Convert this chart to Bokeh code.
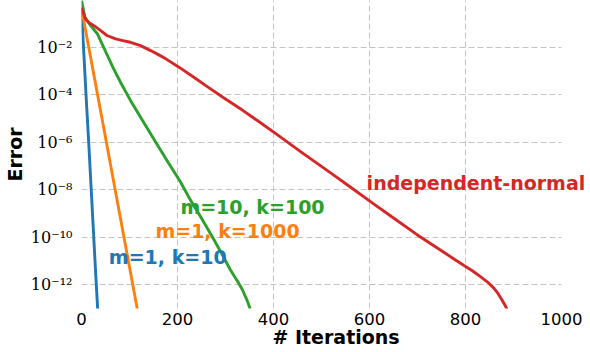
from bokeh.plotting import figure
from bokeh.models import Label, FixedTicker, Range1d
from bokeh.embed import file_html
from bokeh.resources import INLINE

# ---- data ----
blue_iter = [0, 5, 10, 15, 20, 25, 30, 35]
blue_err = [4.0e-1, 5.0e-3, 6.3e-5, 1.0e-6, 1.26e-8, 1.6e-10, 2.0e-12, 3.2e-14]

orange_iter = [0, 10, 20, 40, 60, 80, 100, 120]
orange_err = [4.5e-1, 3.6e-2, 3.0e-3, 2.0e-5, 1.3e-7, 8.5e-10, 5.6e-12, 3.7e-14]

green_iter = [0, 3, 7, 19, 33, 43, 54, 67, 81, 102, 130, 155, 180, 206, 227, 250,
              276, 295, 310, 325, 335, 345, 352, 358]
green_err = [1.0, 4.8e-1, 1.9e-1, 8.3e-2, 3.8e-2, 1.4e-2, 4.6e-3, 1.26e-3, 3.5e-4,
             5.9e-5, 6.8e-6, 1.0e-6, 1.5e-7, 2.2e-8, 3.7e-9, 6.3e-10, 7.9e-11, 1.6e-11,
             4.3e-12, 1.4e-12, 6.3e-13, 2.2e-13, 8.9e-14, 2.5e-14]

red_iter = [0, 3, 8, 16, 26, 40, 53, 71, 86, 102, 123, 144, 160, 175, 203, 234, 262,
            296, 335, 370, 404, 460, 519, 560, 602, 650, 699, 750, 796, 815, 831,
            846, 859, 868, 876, 882, 887, 892]
red_err = [4.9e-1, 3.2e-1, 1.6e-1, 1.1e-1, 8.3e-2, 5.1e-2, 3.2e-2, 2.3e-2, 1.95e-2,
           1.66e-2, 1.2e-2, 7.4e-3, 5.0e-3, 3.4e-3, 1.48e-3, 5.6e-4, 2.24e-4, 7.6e-5,
           2.3e-5, 7.4e-6, 2.4e-6, 3.6e-7, 5.2e-8, 1.32e-8, 3.2e-9, 6.5e-10, 1.29e-10,
           2.7e-11, 6.6e-12, 3.8e-12, 2.2e-12, 1.3e-12, 7.2e-13, 4.2e-13, 2.3e-13,
           1.4e-13, 8.9e-14, 2.5e-14]

series_names = ["m=1, k=10", "m=1, k=1000", "m=10, k=100", "independent-normal"]
series_colors = ["#1f77b4", "#ff7f0e", "#2ca02c", "#d62728"]

label_x = [57, 154, 206, 594]
label_y = [1.55e-11, 1.9e-10, 1.9e-9, 1.95e-8]

x_ticks = [0, 200, 400, 600, 800, 1000]
y_ticks = [1e-12, 1e-10, 1e-8, 1e-6, 1e-4, 1e-2]
y_tick_labels = ["10⁻¹²", "10⁻¹⁰", "10⁻⁸", "10⁻⁶", "10⁻⁴", "10⁻²"]

# ---- figure ----
p = figure(width=590, height=352, y_axis_type="log",
           x_range=Range1d(0, 1060.4), y_range=Range1d(10 ** -13.0, 10 ** -0.02),
           output_backend="svg", toolbar_location=None,
           min_border_left=81, min_border_right=0, min_border_top=0,
           min_border_bottom=44)
p.outline_line_color = None
p.background_fill_color = "white"
p.border_fill_color = "white"

xs = [blue_iter, orange_iter, green_iter, red_iter]
ys = [blue_err, orange_err, green_err, red_err]
for xv, yv, c in zip(xs, ys, series_colors):
    p.line(xv, yv, line_color=c, line_width=2.9, line_join="round")

for name, c, lx, ly in zip(series_names, series_colors, label_x, label_y):
    p.add_layout(Label(x=lx, y=ly, text=name, text_color=c,
                       text_font="DejaVu Sans", text_font_style="bold",
                       text_font_size="19px", text_baseline="middle",
                       text_align="left"))

# axes
p.xaxis.ticker = FixedTicker(ticks=x_ticks)
p.yaxis.ticker = FixedTicker(ticks=y_ticks)
p.yaxis.major_label_overrides = {t: s for t, s in zip(y_ticks, y_tick_labels)}
for ax in (p.xaxis[0], p.yaxis[0]):
    ax.axis_line_color = None
    ax.major_tick_line_color = None
    ax.minor_tick_line_color = None
    ax.major_tick_out = 0
    ax.major_tick_in = 0
    ax.minor_tick_out = 0
    ax.minor_tick_in = 0
    ax.axis_label_text_font = "DejaVu Sans"
    ax.axis_label_text_font_style = "bold"
    ax.axis_label_text_font_size = "19px"
    ax.axis_label_text_color = "black"
    ax.major_label_text_color = "black"

p.xaxis.axis_label = "# Iterations"
p.yaxis.axis_label = "Error"
p.xaxis.major_label_text_font = "DejaVu Sans"
p.xaxis.major_label_text_font_size = "16.5px"
p.xaxis.major_label_standoff = 4
p.xaxis.axis_label_standoff = -2
p.yaxis.major_label_text_font = "DejaVu Serif"
p.yaxis.major_label_text_font_size = "16px"
p.yaxis.major_label_standoff = 9
p.yaxis.axis_label_standoff = 2

# grid
p.xgrid.ticker = FixedTicker(ticks=x_ticks[:-1])
p.ygrid.ticker = FixedTicker(ticks=y_ticks)
yg = p.ygrid[0]
if "cross_bounds" in yg.properties():
    yg.cross_bounds = (x_ticks[0], x_ticks[-1])
for g in (p.xgrid[0], p.ygrid[0]):
    g.grid_line_color = "#c4c4c4"
    g.grid_line_dash = "6 3"
    g.grid_line_width = 1

open("out.html", "w").write(file_html(p, INLINE))
